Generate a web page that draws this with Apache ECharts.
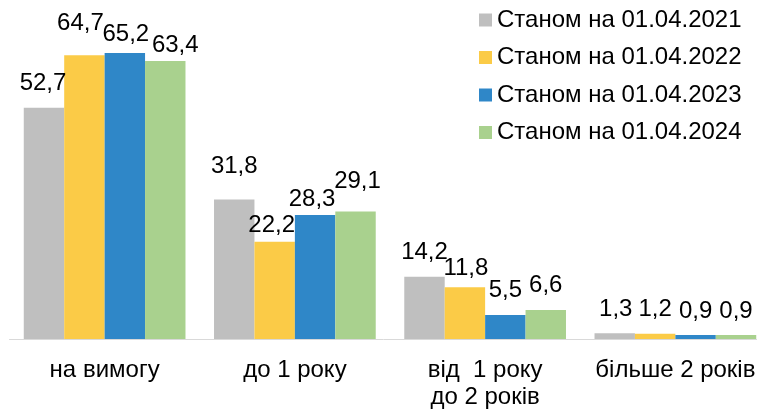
<!DOCTYPE html>
<html>
<head>
<meta charset="utf-8">
<script src="https://cdn.jsdelivr.net/npm/echarts@6/dist/echarts.min.js"></script>
<style>
html,body{margin:0;padding:0;background:#fff;}
#chart{width:757px;height:409px;}
</style>
</head>
<body>
<div id="chart"></div>
<script>
var categories = ['на вимогу', 'до 1 року', 'від  1 року\nдо 2 років', 'більше 2 років'];
var seriesNames = ['Станом на 01.04.2021', 'Станом на 01.04.2022', 'Станом на 01.04.2023', 'Станом на 01.04.2024'];
var v2021 = [52.7, 31.8, 14.2, 1.3];
var v2022 = [64.7, 22.2, 11.8, 1.2];
var v2023 = [65.2, 28.3, 5.5, 0.9];
var v2024 = [63.4, 29.1, 6.6, 0.9];
var colors = ['#bfbfbf', '#fbcb47', '#2f87c8', '#a9d18e'];

// ручне зміщення підписів (як у вихідній діаграмі), [dx, dy]
var nudges = [
	[[-1, 0], [0, -9], [0, 0], [1, 0]],
	[[-4, -8], [-3, 8], [1, 5], [0, 0]],
	[[1, 5], [-3, 8], [0, -1], [0, 0]],
	[[10, 8], [2, -6], [0, -1], [0, 0]]
];

var allValues = [v2021, v2022, v2023, v2024];
var font = 'Arial, "Liberation Sans", sans-serif';

var series = [];
for (var s = 0; s < allValues.length; s++) {
	var items = [];
	for (var i = 0; i < allValues[s].length; i++) {
		items.push({
			value: allValues[s][i],
			label: {offset: nudges[s][i]}
		});
	}
	series.push({
		name: seriesNames[s],
		type: 'bar',
		barGap: 0,
		barCategoryGap: '15%',
		itemStyle: {color: colors[s]},
		label: {
			show: true,
			position: 'top',
			distance: 12,
			color: '#000',
			fontFamily: font,
			fontSize: 24,
			formatter: function (p) { return String(p.value).replace('.', ','); }
		},
		data: items
	});
}

var myChart = echarts.init(document.getElementById('chart'));
var option = {
	animation: false,
	legend: {
		orient: 'vertical',
		left: 479,
		top: 8,
		padding: 0,
		icon: 'rect',
		itemWidth: 13,
		itemHeight: 13,
		itemGap: 13.5,
		textStyle: {color: '#000', fontFamily: font, fontSize: 24, lineHeight: 24},
		data: seriesNames
	},
	grid: {left: 9.5, top: 32, width: 761, bottom: 70, outerBoundsMode: 'none', containLabel: false},
	xAxis: {
		type: 'category',
		data: categories,
		axisLine: {lineStyle: {color: '#d9d9d9', width: 1}},
		axisTick: {length: 7, lineStyle: {color: '#d9d9d9'}},
		axisLabel: {color: '#000', fontFamily: font, fontSize: 24, lineHeight: 27, margin: 18, interval: 0}
	},
	yAxis: {
		type: 'value',
		min: 0,
		max: 70,
		show: false
	},
	series: series
};
myChart.setOption(option);
</script>
</body>
</html>
